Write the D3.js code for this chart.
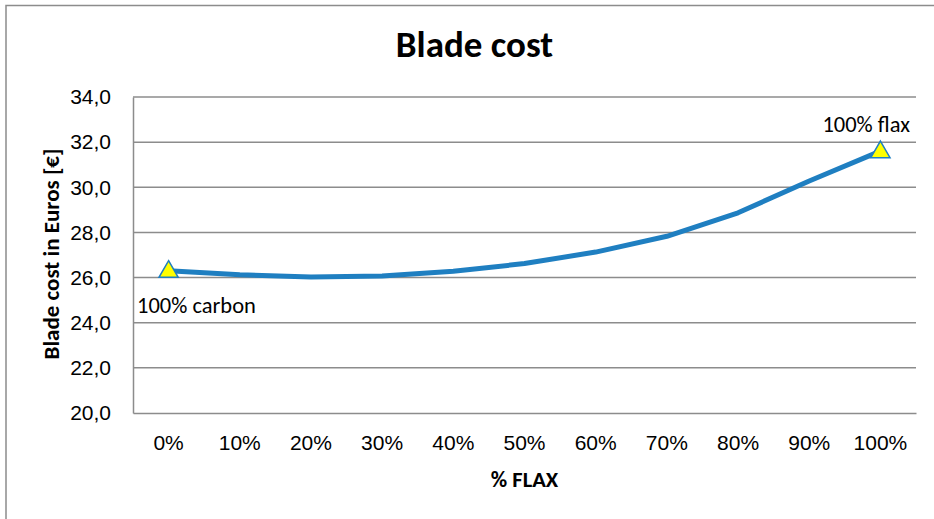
<!DOCTYPE html>
<html>
<head>
<meta charset="utf-8">
<script src="https://cdn.jsdelivr.net/npm/d3@7"></script>
<style>
  html, body { margin: 0; padding: 0; background: #fff; }
  svg { display: block; font-family: Carlito, Calibri, Lato, "Open Sans", sans-serif; }
</style>
</head>
<body>
<svg id="chart" width="934" height="519"></svg>
<script>
// Flax share in the blade laminate and resulting blade cost (€)
const categories = ["0%", "10%", "20%", "30%", "40%", "50%", "60%", "70%", "80%", "90%", "100%"];
const bladeCost = [26.3, 26.12, 26.03, 26.07, 26.28, 26.62, 27.13, 27.83, 28.87, 30.28, 31.6];
const yTicks = [20, 22, 24, 26, 28, 30, 32, 34];
const annotations = [
  { index: 0, text: "100% carbon" },
  { index: 10, text: "100% flax" }
];

const svg = d3.select("#chart");
const W = 934, H = 519;
const plot = { left: 133, right: 916, top: 97, bottom: 413 };

// outer chart frame (runs off the right and bottom edges)
svg.append("path")
  .attr("d", `M6,${H + 5} V5.5 H${W + 5}`)
  .attr("fill", "none")
  .attr("stroke", "#8c8c8c")
  .attr("stroke-width", 1.5);

const x = d3.scaleBand().domain(categories).range([plot.left, plot.right]);
const y = d3.scaleLinear().domain([20, 34]).range([plot.bottom, plot.top]);
const fmt = v => d3.format(".1f")(v).replace(".", ",");

// horizontal gridlines
svg.append("g")
  .selectAll("line")
  .data(yTicks.filter(t => t > 20))
  .join("line")
  .attr("x1", plot.left).attr("x2", plot.right)
  .attr("y1", d => y(d)).attr("y2", d => y(d))
  .attr("stroke", "#8c8c8c").attr("stroke-width", 1.5);

// y axis
const yAxis = svg.append("g")
  .attr("transform", `translate(${plot.left},0)`)
  .call(d3.axisLeft(y).tickValues(yTicks).tickFormat(fmt).tickSize(0).tickPadding(22));
yAxis.select(".domain").attr("stroke", "#8c8c8c").attr("stroke-width", 1.5);
yAxis.selectAll("text").attr("font-size", 21).attr("fill", "#000").attr("font-family", null);

// x axis
const xAxis = svg.append("g")
  .attr("transform", `translate(0,${plot.bottom})`)
  .call(d3.axisBottom(x).tickSize(0).tickPadding(22));
xAxis.select(".domain").attr("stroke", "#8c8c8c").attr("stroke-width", 1.5);
xAxis.selectAll("text").attr("font-size", 21).attr("fill", "#000").attr("font-family", null);

// cost curve
const cx = d => x(d) + x.bandwidth() / 2;
const line = d3.line()
  .x((d, i) => cx(categories[i]))
  .y(d => y(d));
svg.append("path")
  .datum(bladeCost)
  .attr("d", line)
  .attr("fill", "none")
  .attr("stroke", "#1f7fc1")
  .attr("stroke-width", 5)
  .attr("stroke-linejoin", "round");

// triangle markers on the two pure-fibre blades
const tri = d3.symbol().type(d3.symbolTriangle).size(160);
svg.append("g")
  .selectAll("path")
  .data(annotations)
  .join("path")
  .attr("d", tri)
  .attr("transform", d => `translate(${cx(categories[d.index])},${y(bladeCost[d.index]) + 1})`)
  .attr("fill", "#ffff00")
  .attr("stroke", "#1f7fc1")
  .attr("stroke-width", 1.5);

// point labels
svg.append("text")
  .attr("x", 137).attr("y", y(bladeCost[0]) + 42)
  .attr("font-size", 22.5).text(annotations[0].text);
svg.append("text")
  .attr("x", 910).attr("y", y(bladeCost[10]) - 19)
  .attr("text-anchor", "end")
  .attr("font-size", 22.5).text(annotations[1].text);

// titles
svg.append("text")
  .attr("x", 474.5).attr("y", 57)
  .attr("text-anchor", "middle")
  .attr("font-size", 37).attr("font-weight", "bold")
  .text("Blade cost");
svg.append("text")
  .attr("x", 524.5).attr("y", 487)
  .attr("text-anchor", "middle")
  .attr("font-size", 22.5).attr("font-weight", "bold")
  .text("% FLAX");
svg.append("text")
  .attr("transform", `translate(59,${254}) rotate(-90)`)
  .attr("text-anchor", "middle")
  .attr("font-size", 23).attr("font-weight", "bold")
  .text("Blade cost in Euros [€]");
</script>
</body>
</html>
